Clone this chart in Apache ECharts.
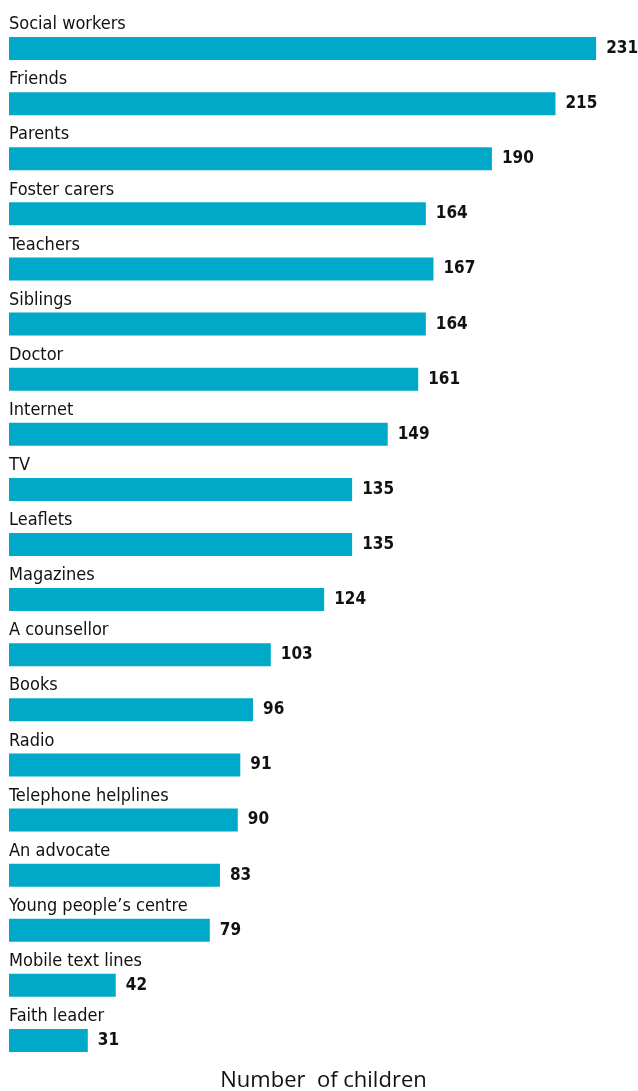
<!DOCTYPE html>
<html>
<head>
<meta charset="utf-8">
<script src="https://cdn.jsdelivr.net/npm/echarts@6/dist/echarts.min.js"></script>
<style>
html,body{margin:0;padding:0;background:#fff;}
#c{width:638px;height:1091px;}
</style>
</head>
<body>
<div id="c"></div>
<script>
const categories = ["Social workers","Friends","Parents","Foster carers","Teachers","Siblings","Doctor","Internet","TV","Leaflets","Magazines","A counsellor","Books","Radio","Telephone helplines","An advocate","Young people\u2019s centre","Mobile text lines","Faith leader"];
const values = [231,215,190,164,167,164,161,149,135,135,124,103,96,91,90,83,79,42,31];
const axisTitle = "Number  of children";

const labelFont = "'DejaVu Sans Condensed', sans-serif";
const chart = echarts.init(document.getElementById('c'));
chart.setOption({
  animation: false,
  grid: {left: 9, top: 21, width: 610, height: 1047, containLabel: false, outerBoundsMode: 'none'},
  xAxis: {
    type: 'value', min: 0, max: 240,
    axisLine: {show: false}, axisTick: {show: false}, axisLabel: {show: false}, splitLine: {show: false},
    name: axisTitle, nameLocation: 'middle', nameGap: 2,
    nameTextStyle: {fontFamily: "'Open Sans', sans-serif", fontSize: 22, color: '#111', verticalAlign: 'top', padding: [0, 0, 0, 19]}
  },
  yAxis: {
    type: 'category', data: categories, inverse: true,
    axisLine: {show: false}, axisTick: {show: false}, splitLine: {show: false},
    axisLabel: {
      inside: true, margin: 0, align: 'left', verticalAlign: 'bottom',
      fontFamily: labelFont, fontSize: 18, lineHeight: 20, color: '#111',
      padding: [0, 0, 14, 0]
    }
  },
  series: [{
    type: 'bar', data: values, barWidth: 23,
    itemStyle: {color: '#00A9C8'},
    label: {show: true, position: 'right', distance: 10,
      fontFamily: labelFont, fontWeight: 'bold', fontSize: 17, color: '#111'}
  }]
});
</script>
</body>
</html>
